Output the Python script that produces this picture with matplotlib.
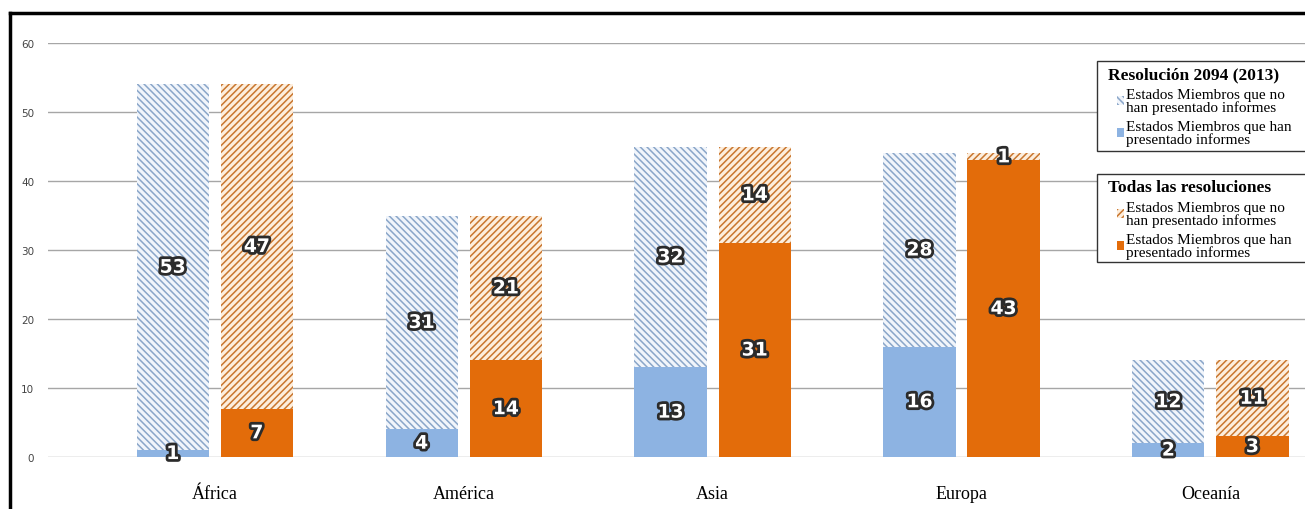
import numpy as np
import matplotlib.pyplot as plt
import matplotlib.patheffects as pe
from matplotlib.patches import Patch, Rectangle
from matplotlib.lines import Line2D

# Data
regions = ['África', 'América', 'Asia', 'Europa', 'Oceanía']
res2094_si = [1, 4, 13, 16, 2]      # Resolución 2094: han presentado
res2094_no = [53, 31, 32, 28, 12]   # Resolución 2094: no han presentado
todas_si = [7, 14, 31, 43, 3]       # Todas: han presentado
todas_no = [47, 21, 14, 1, 11]      # Todas: no han presentado
y_ticks = [0, 10, 20, 30, 40, 50, 60]

blue = '#8db3e2'
blue_hatch = '#8aa6c9'
orange = '#e36c0a'
orange_hatch = '#c9772f'
blue_bg = '#f1f5fb'
orange_bg = '#fdeedd'
hatch_b = '\\' * 5
hatch_o = '/' * 5

plt.rcParams['hatch.linewidth'] = 1.1

W, H = 1305, 510
fig = plt.figure(figsize=(W / 100, H / 100), dpi=100)
ax = fig.add_axes([48/W, 52/H, 1 - 48/W, 414/H])

x = np.arange(len(regions))
w = 0.29
off = 0.169

# blue bars (Resolución 2094)
ax.bar(x - off, res2094_si, w, color=blue, zorder=2)
ax.bar(x - off, res2094_no, w, bottom=res2094_si, facecolor=blue_bg,
       edgecolor=blue_hatch, hatch=hatch_b, linewidth=0, zorder=2)
# orange bars (Todas las resoluciones)
ax.bar(x + off, todas_si, w, color=orange, zorder=2)
ax.bar(x + off, todas_no, w, bottom=todas_si, facecolor=orange_bg,
       edgecolor=orange_hatch, hatch=hatch_o, linewidth=0, zorder=2)

# value labels
outline = [pe.withStroke(linewidth=4, foreground='#2b2b2b')]
def label(xpos, bottoms, heights):
    for xi, b, h in zip(xpos, bottoms, heights):
        ax.text(xi, b + h / 2, str(h), ha='center', va='center', color='white',
                fontsize=13.5, fontweight='bold', family='DejaVu Sans',
                path_effects=outline, zorder=5)

label(x - off, [0] * 5, res2094_si)
label(x - off, res2094_si, res2094_no)
label(x + off, [0] * 5, todas_si)
label(x + off, todas_si, todas_no)

ax.set_xlim(-0.67, 4.38)
ax.set_ylim(0, 60)
ax.set_yticks(y_ticks)
ax.set_xticks(x)
ax.set_xticklabels(regions, family='Liberation Serif', fontsize=13)
ax.tick_params(axis='x', length=0, pad=20)
ax.tick_params(axis='y', length=0, pad=10, labelsize=7.5, labelcolor='#444444')
ax.yaxis.grid(True, color='#a6a6a6', linewidth=1, zorder=0)
ax.set_axisbelow(True)
for s in ax.spines.values():
    s.set_visible(False)
ax.patch.set_visible(False)

# legends: frame box + bold title + entries, box runs past the right edge
lab_no = 'Estados Miembros que no\nhan presentado informes'
lab_si = 'Estados Miembros que han\npresentado informes'
legkw = dict(loc='upper left', prop={'family': 'Liberation Serif', 'size': 11},
             frameon=False, handlelength=0.45, handleheight=0.55,
             handletextpad=0.15, labelspacing=0.4, borderpad=0, borderaxespad=0)
title_font = dict(family='Liberation Serif', size=12.5, weight='bold')

def legend_block(handles, title, box_top, box_h):
    fig.add_artist(Rectangle((1097/W, 1 - (box_top + box_h)/H), 220/W, box_h/H,
                             transform=fig.transFigure, facecolor='white',
                             edgecolor='#333333', linewidth=1.0, zorder=4))
    fig.text(1108/W, 1 - (box_top + 13)/H, title, ha='left', va='center',
             zorder=6, **title_font)
    leg = fig.legend(handles, [lab_no, lab_si],
                     bbox_to_anchor=(1117/W, 1 - (box_top + 27)/H), **legkw)
    leg.set_zorder(6)
    for t in leg.get_texts():
        t.set_linespacing(0.92)

h1 = [Patch(facecolor=blue_bg, edgecolor=blue_hatch, hatch=hatch_b, linewidth=0),
      Patch(facecolor=blue)]
legend_block(h1, 'Resolución 2094 (2013)', 62, 90)
h2 = [Patch(facecolor=orange_bg, edgecolor=orange_hatch, hatch=hatch_o, linewidth=0),
      Patch(facecolor=orange)]
legend_block(h2, 'Todas las resoluciones', 175, 88)

# outer frame (left and top edges)
fig.add_artist(Line2D([10/W, 10/W], [0, 1 - 14/H], color='black', linewidth=2.5))
fig.add_artist(Line2D([10/W, 1], [1 - 14/H, 1 - 14/H], color='black', linewidth=2.5))

fig.savefig('out.png', dpi=100)
